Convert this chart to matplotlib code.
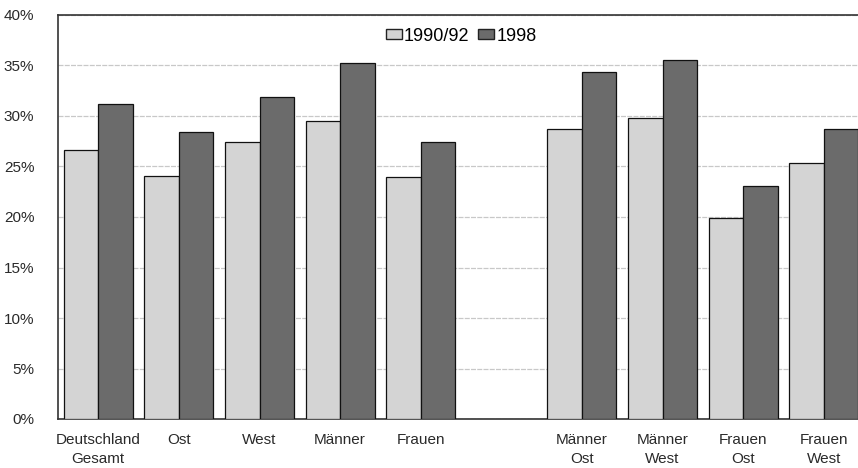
import matplotlib.pyplot as plt
import numpy as np
from matplotlib.patches import Patch
from matplotlib.ticker import PercentFormatter

plt.rcParams['font.family'] = ['Liberation Sans', 'DejaVu Sans']

# Anteil in Prozent je Gruppe
kategorien = ['Deutschland\nGesamt', 'Ost', 'West', 'Männer', 'Frauen',
              'Männer\nOst', 'Männer\nWest', 'Frauen\nOst', 'Frauen\nWest']
positionen = [0, 1, 2, 3, 4, 6, 7, 8, 9]
werte_1990 = [26.6, 24.1, 27.4, 29.5, 24.0, 28.7, 29.8, 19.9, 25.3]
werte_1998 = [31.2, 28.4, 31.9, 35.2, 27.4, 34.4, 35.5, 23.1, 28.7]

hell = '#d4d4d4'
dunkel = '#6b6b6b'
breite = 0.428

fig = plt.figure(figsize=(8.58, 4.68), dpi=100)
# Achse geht rechts etwas über den Bildrand hinaus
ax = fig.add_axes([58 / 858, 49 / 468, 806 / 858, 404 / 468])

x = np.array(positionen)
ax.bar(x - breite / 2, werte_1990, breite, color=hell, edgecolor='#111111', linewidth=0.9, zorder=3)
ax.bar(x + breite / 2, werte_1998, breite, color=dunkel, edgecolor='#111111', linewidth=0.9, zorder=3)

ax.set_xlim(-0.5, 9.5)
ax.set_ylim(0, 40)
ax.set_yticks(np.arange(0, 41, 5))
ax.yaxis.set_major_formatter(PercentFormatter(decimals=0))
ax.set_xticks(positionen)
ax.set_xticklabels(kategorien, linespacing=1.45)

ax.tick_params(axis='y', length=0, pad=17, labelsize=11, labelcolor='#2a2a2a')
ax.tick_params(axis='x', length=0, pad=10, labelsize=11, labelcolor='#2a2a2a')

ax.grid(axis='y', color='#c8c8c8', linewidth=0.9, linestyle=(0, (4, 1)), zorder=0)
for seite in ['left', 'top', 'bottom', 'right']:
    ax.spines[seite].set_color('#333333')
    ax.spines[seite].set_linewidth(1.2)

handles = [Patch(facecolor=hell, edgecolor='#222222', label='1990/92'),
           Patch(facecolor=dunkel, edgecolor='#222222', label='1998')]
ax.legend(handles=handles, loc='center', bbox_to_anchor=(0.5, 0.948), ncol=2,
          frameon=False, fontsize=13, handlelength=0.9, handleheight=0.5,
          handletextpad=0.1, columnspacing=0.5, borderaxespad=0)

fig.savefig('out.png', dpi=100)
